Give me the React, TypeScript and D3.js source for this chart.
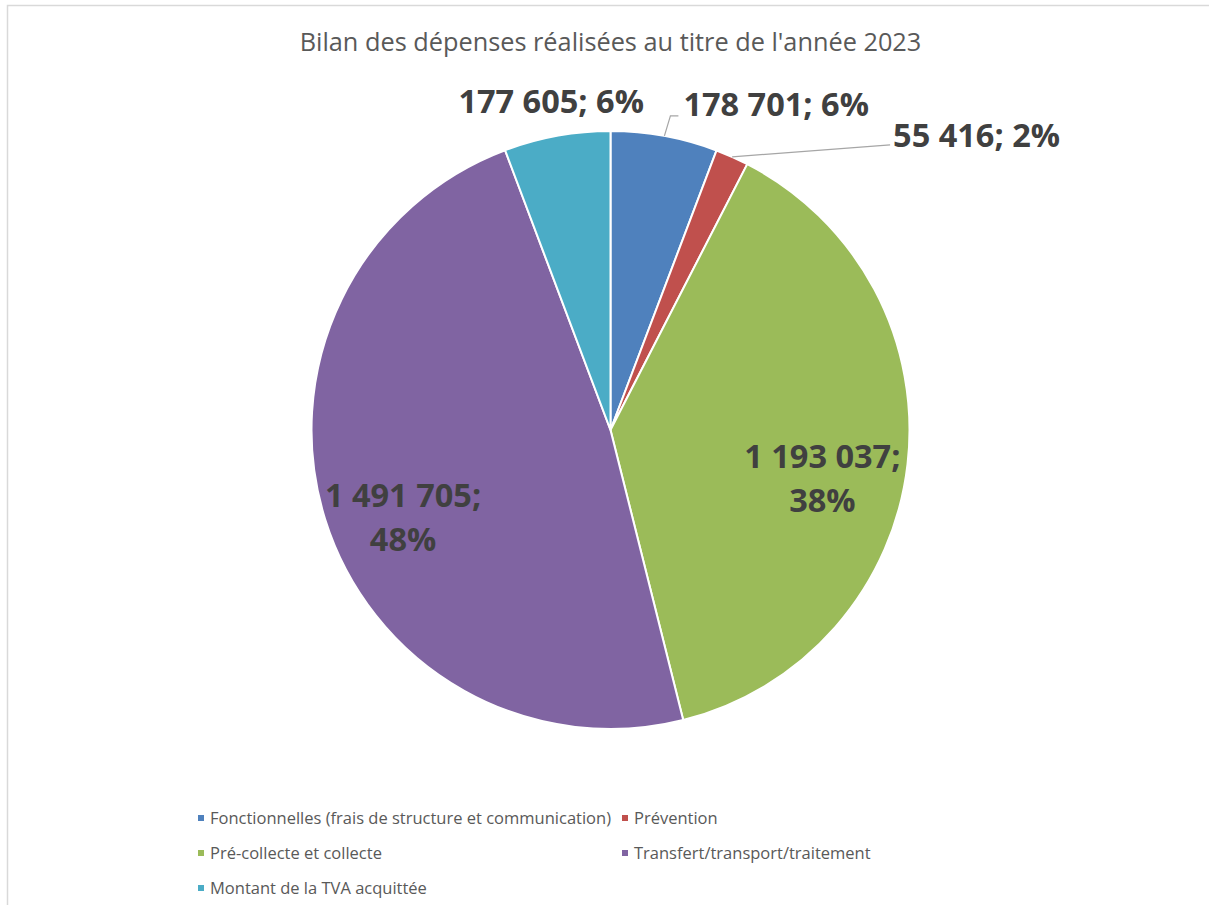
import React, { useRef, useEffect } from 'react';
import * as d3 from 'd3';

// Bilan 2023
const categories = [
  'Fonctionnelles (frais de structure et communication)',
  'Prévention',
  'Pré-collecte et collecte',
  'Transfert/transport/traitement',
  'Montant de la TVA acquittée',
];
const values = [178701, 55416, 1193037, 1491705, 177605];
const colors = ['#4F81BD', '#C0504D', '#9BBB59', '#8064A2', '#4BACC6'];
const title = "Bilan des dépenses réalisées au titre de l'année 2023";

const width = 1209;
const height = 905;
const FONT = "'Open Sans', sans-serif";

const fmt = (v: number) => d3.format(',')(v).replace(/,/g, ' ');

// percentages rounded so they add up to 100 (largest remainder)
function roundedPercents(vals: number[]) {
  const total = d3.sum(vals);
  const raw = vals.map(v => (v / total) * 100);
  const out = raw.map(Math.floor);
  let left = 100 - d3.sum(out);
  const order = raw.map((r, i) => i).sort((a, b) => (raw[b] - out[b]) - (raw[a] - out[a]));
  for (const i of order) {
    if (left <= 0) break;
    out[i] += 1;
    left--;
  }
  return out;
}

export default function App() {
  const svgRef = useRef<SVGSVGElement>(null);

  useEffect(() => {
    if (!svgRef.current) return;
    d3.select(svgRef.current).selectAll('*').remove();

    const svg = d3.select(svgRef.current)
      .attr('width', width)
      .attr('height', height);

    svg.append('rect').attr('width', width).attr('height', height).attr('fill', '#fff');

    // chart area border (top and left visible)
    svg.append('rect')
      .attr('x', 7.5).attr('y', 5.5)
      .attr('width', width + 20).attr('height', height + 20)
      .attr('fill', 'none')
      .attr('stroke', '#d9d9d9')
      .attr('stroke-width', 1.5);

    svg.append('text')
      .attr('x', 610.5).attr('y', 51)
      .attr('text-anchor', 'middle')
      .style('font-family', FONT)
      .style('font-size', '25.3px')
      .style('fill', '#595959')
      .text(title);

    const cx = 610.5, cy = 430, R = 299;
    const pcts = roundedPercents(values);
    const data = values.map((v, i) => ({ name: categories[i], value: v, color: colors[i], pct: pcts[i], i }));

    const pie = d3.pie<any>().value(d => d.value).sort(null);
    const arcs = pie(data);
    const arc = d3.arc<any>().innerRadius(0).outerRadius(R);

    const g = svg.append('g').attr('transform', `translate(${cx},${cy})`);

    g.selectAll('path.slice')
      .data(arcs)
      .join('path')
      .attr('class', 'slice')
      .attr('d', arc)
      .attr('fill', d => d.data.color)
      .attr('stroke', '#fff')
      .attr('stroke-width', 2)
      .attr('stroke-linejoin', 'round');

    const labelStyle = (t: any) => t
      .style('font-family', FONT)
      .style('font-weight', 700)
      .style('font-size', '32.5px')
      .style('fill', '#404040');

    const mid = (d: any) => (d.startAngle + d.endAngle) / 2;
    const edge = (d: any, r = R) => [Math.sin(mid(d)) * r, -Math.cos(mid(d)) * r];

    // label layout: inside for big slices, outside with leaders for small ones
    const outside: Record<number, any> = {
      0: { elbow: [6, -20], end: [14, -20], text: [19, -20], anchor: 'start' },
      1: { end: [158, -12], text: [161, -10], anchor: 'start' },
      4: { text: [87, -23], anchor: 'end' },
    };

    arcs.forEach(d => {
      const pct = d.data.pct;
      const lay = outside[d.data.i];
      if (lay) {
        const [ex, ey] = edge(d);
        if (lay.end) {
          const pts: [number, number][] = [[ex, ey]];
          if (lay.elbow) pts.push([ex + lay.elbow[0], ey + lay.elbow[1]]);
          pts.push([ex + lay.end[0], ey + lay.end[1]]);
          g.append('path')
            .attr('d', d3.line()(pts))
            .attr('fill', 'none')
            .attr('stroke', '#a6a6a6')
            .attr('stroke-width', 1.2);
        }
        g.append('text')
          .attr('x', ex + lay.text[0])
          .attr('y', ey + lay.text[1])
          .attr('text-anchor', lay.anchor)
          .call(labelStyle)
          .text(`${fmt(d.data.value)}; ${pct}%`);
      } else {
        const [lx, ly] = edge(d, R * 0.72);
        const t = g.append('text')
          .attr('text-anchor', 'middle')
          .call(labelStyle);
        t.append('tspan').attr('x', lx - 2).attr('y', ly + 13).text(`${fmt(d.data.value)};`);
        t.append('tspan').attr('x', lx - 2).attr('y', ly + 57).text(`${pct}%`);
      }
    });

    // legend
    const legendCols = [198, 622];
    const legendRows = [818, 853, 888];
    const lg = svg.append('g');
    data.forEach((d, i) => {
      const x = legendCols[i % 2];
      const y = legendRows[Math.floor(i / 2)];
      lg.append('rect')
        .attr('x', x).attr('y', y - 3)
        .attr('width', 6).attr('height', 6)
        .attr('fill', d.color);
      lg.append('text')
        .attr('x', x + 12).attr('y', y + 5.5)
        .style('font-family', FONT)
        .style('font-size', '16.5px')
        .style('fill', '#595959')
        .text(d.name);
    });
  }, []);

  return (
    <svg ref={svgRef} style={{ position: 'absolute', left: 0, top: 0, display: 'block' }} />
  );
}
